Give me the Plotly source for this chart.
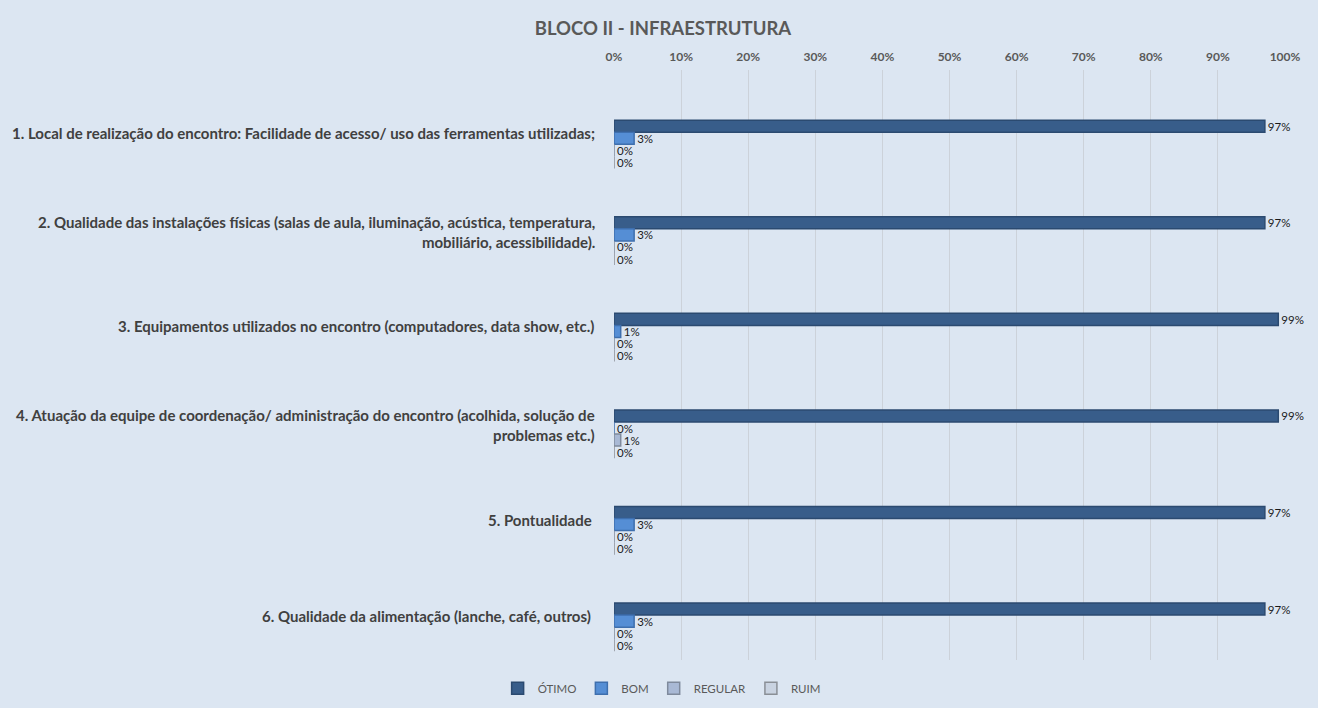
import plotly.graph_objects as go

categories = [
    "1. Local de realização do encontro: Facilidade de acesso/ uso das ferramentas utilizadas;",
    "2. Qualidade das instalações físicas (salas de aula, iluminação, acústica, temperatura,<br>mobiliário, acessibilidade).",
    "3. Equipamentos utilizados no encontro (computadores, data show, etc.)",
    "4. Atuação da equipe de coordenação/ administração do encontro (acolhida, solução de<br>problemas etc.)",
    "5. Pontualidade ",
    "6. Qualidade da alimentação (lanche, café, outros) ",
]
otimo = [97, 97, 99, 99, 97, 97]
bom = [3, 3, 1, 0, 3, 3]
regular = [0, 0, 0, 1, 0, 0]
ruim = [0, 0, 0, 0, 0, 0]
x_ticks = [0, 10, 20, 30, 40, 50, 60, 70, 80, 90, 100]
x_tick_labels = [f"{t}%" for t in x_ticks]

series = [
    ("ÓTIMO", otimo, "#385D8A", "#2B4A70"),
    ("BOM", bom, "#558ED5", "#3E6FAE"),
    ("REGULAR", regular, "#A9B9D5", "#7F8A9C"),
    ("RUIM", ruim, "#C9D3E1", "#8A8F96"),
]

ypos = list(range(len(categories)))

fig = go.Figure()
for name, vals, color, lcolor in series:
    fig.add_trace(go.Bar(
        y=ypos, x=vals, name=name, orientation="h",
        marker=dict(color=color, line=dict(color=lcolor, width=1.5)),
        text=[f"{v}%" for v in vals], textposition="outside",
        constraintext="none",
        textfont=dict(family="Lato", size=11.5, color="#1A1A1A"),
        cliponaxis=False, hoverinfo="skip",
    ))

annotations = []
for i, c in enumerate(categories):
    annotations.append(dict(
        x=0, xref="paper", xanchor="right", xshift=-17,
        y=i, yref="y", yanchor="middle", yshift=11 if "<br>" not in c else 9,
        text=c, showarrow=False, align="right",
        font=dict(family="Lato", size=15, color="#404040", weight="bold"),
    ))

fig.update_layout(
    width=1318, height=708,
    paper_bgcolor="#DCE6F2", plot_bgcolor="#DCE6F2",
    margin=dict(l=614, r=33, t=70, b=48),
    barmode="group", bargap=0.5, bargroupgap=0,
    title=dict(text="<b>BLOCO II - INFRAESTRUTURA</b>", x=0.503, xanchor="center",
               y=0.96, yanchor="middle",
               font=dict(family="Lato", size=18.5, color="#595959")),
    xaxis=dict(side="top", range=[0, 100], tickvals=x_ticks, ticktext=x_tick_labels,
               showgrid=True, gridcolor="#CCD2DA", gridwidth=1, zeroline=False,
               tickfont=dict(family="Lato", size=12, color="#595959", weight="bold"),
               ticklabelstandoff=6,
               showline=False, ticks=""),
    yaxis=dict(range=[5.34, -0.77], showticklabels=False, showgrid=False,
               zeroline=False, showline=False, ticks=""),
    legend=dict(orientation="h", xref="container", x=0.502, xanchor="center",
                yref="container", y=0.028, yanchor="middle",
                font=dict(family="Lato", size=11.5, color="#595959"),
                traceorder="normal", itemwidth=30),
    annotations=annotations,
    showlegend=True,
    hovermode=False,
)

fig.write_html("out.html", config={"displayModeBar": False},
               post_script="document.body.style.margin='0';document.body.style.overflow='hidden';")
